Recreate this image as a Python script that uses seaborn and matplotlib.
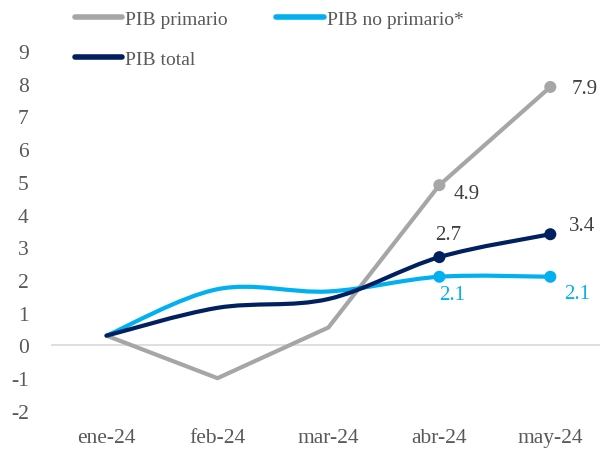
import numpy as np
import pandas as pd
import matplotlib
matplotlib.use("Agg")
import matplotlib.pyplot as plt
from matplotlib.path import Path
from matplotlib.patches import PathPatch
from matplotlib.lines import Line2D
import seaborn as sns

# data
meses = ["ene-24", "feb-24", "mar-24", "abr-24", "may-24"]
pib_primario = [0.3, -1.0, 0.55, 4.9, 7.9]
pib_no_primario = [0.3, 1.72, 1.65, 2.1, 2.1]
pib_total = [0.3, 1.15, 1.42, 2.7, 3.4]

GRIS = "#A6A6A6"
CELESTE = "#00B0F0"
AZUL = "#002060"
TXT = "#595959"


def smooth_path(x, y):
    # Excel-style smoothed line: cubic bezier through the points (Catmull-Rom)
    pts = np.column_stack([x, y]).astype(float)
    ext = np.vstack([pts[0], pts, pts[-1]])
    verts = [pts[0]]
    codes = [Path.MOVETO]
    for i in range(1, len(ext) - 2):
        p0, p1, p2, p3 = ext[i - 1], ext[i], ext[i + 1], ext[i + 2]
        c1 = p1 + (p2 - p0) / 6
        c2 = p2 - (p3 - p1) / 6
        verts += [c1, c2, p2]
        codes += [Path.CURVE4] * 3
    return Path(verts, codes)


sns.set_theme(style="white")
plt.rcParams["font.family"] = ["Liberation Serif", "DejaVu Serif"]
plt.rcParams["axes.unicode_minus"] = False

fig = plt.figure(figsize=(6.01, 4.56), dpi=100)
ax = fig.add_axes([0.085, 0.068, 0.913, 0.818])

df = pd.DataFrame({"mes": meses, "prim": pib_primario,
                   "noprim": pib_no_primario, "total": pib_total})
xs = np.arange(len(meses))

ax.axhline(0, color="#D9D9D9", lw=1.2, zorder=1)

sns.lineplot(x=xs, y=df["prim"], ax=ax, color=GRIS, lw=3, zorder=3)
for serie, col, z in [("noprim", CELESTE, 4), ("total", AZUL, 5)]:
    ax.add_patch(PathPatch(smooth_path(xs, df[serie]), fc="none", ec=col,
                           lw=3, capstyle="round", zorder=z))

# marcadores en abr y may
for serie, col, z in [("prim", GRIS, 6), ("noprim", CELESTE, 6), ("total", AZUL, 7)]:
    sns.scatterplot(x=xs[3:], y=df[serie].values[3:], ax=ax, color=col, s=75,
                    edgecolor="none", zorder=z, legend=False)

# etiquetas
def etiqueta(i, serie, dx, dy, col):
    v = df[serie].values[i]
    ax.annotate(f"{v:.1f}", (xs[i], v), xytext=(dx, dy), textcoords="offset points",
                ha="center", va="center", color=col, fontsize=15)

etiqueta(3, "prim", 20, -6, "#404040")
etiqueta(4, "prim", 25, -1, "#404040")
etiqueta(3, "total", 6, 16, "#404040")
etiqueta(4, "total", 23, 6, "#404040")
etiqueta(3, "noprim", 9, -13, CELESTE)
etiqueta(4, "noprim", 19, -12, CELESTE)

ax.set_xlim(-0.5, 4.446)
ax.set_ylim(-2.4, 9.0)
ax.set_yticks(range(-2, 10))
ax.set_xticks(xs)
ax.set_xticklabels(meses)
ax.tick_params(axis="both", labelsize=15.5, colors=TXT, length=0)
ax.tick_params(axis="y", pad=16)
ax.tick_params(axis="x", pad=3)
ax.set_xlabel("")
ax.set_ylabel("")
for s in ax.spines.values():
    s.set_visible(False)

# orden para que quede: fila 1 primario / no primario, fila 2 total
handles = [Line2D([], [], color=GRIS, lw=4),
           Line2D([], [], color=AZUL, lw=4),
           Line2D([], [], color=CELESTE, lw=4)]
labels = ["PIB primario", "PIB total", "PIB no primario*"]
leg = fig.legend(handles, labels, ncol=2, loc="upper left",
                 bbox_to_anchor=(0.095, 1.013), frameon=False, fontsize=14,
                 handlelength=2.45, handletextpad=0.15, columnspacing=2.5,
                 labelspacing=1.15)
for t in leg.get_texts():
    t.set_color(TXT)

fig.savefig("out.png", dpi=100)
